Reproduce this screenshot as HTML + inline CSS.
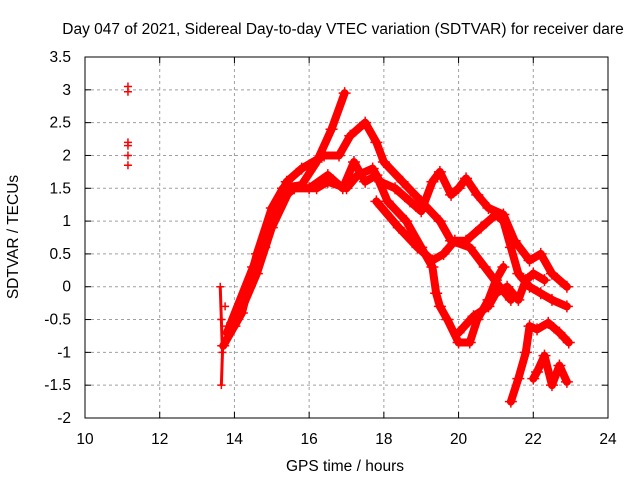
<!DOCTYPE html>
<html><head><meta charset="utf-8"><style>
body{margin:0;background:#fff;font-family:"Liberation Sans",sans-serif}
svg text{font-family:"Liberation Sans",sans-serif;font-size:15.5px;fill:#000}
</style></head><body>
<svg id="chart" width="640" height="480" xmlns="http://www.w3.org/2000/svg">
<rect width="640" height="480" fill="#fff"/>
<text x="343" y="34" text-anchor="middle">Day 047 of 2021, Sidereal Day-to-day VTEC variation (SDTVAR) for receiver dare</text>
<g id="grid"></g><g id="data"></g><g id="axes"></g>
<text x="345" y="471" text-anchor="middle">GPS time / hours</text>
<text transform="translate(18,237) rotate(-90)" text-anchor="middle">SDTVAR / TECUs</text>
</svg>
<script>
const xTicks=[10,12,14,16,18,20,22,24];
const yTicks=[-2,-1.5,-1,-0.5,0,0.5,1,1.5,2,2.5,3,3.5];
const trackT1=[[13.7,-0.9],[14.2,-0.4],[14.6,0.5],[15.0,1.2],[15.3,1.5],[15.8,1.55],[16.2,1.9],[16.6,2.4],[16.95,2.95]];
const trackT2=[[13.8,-0.7],[14.5,0.3],[15.0,1.1],[15.4,1.6],[15.8,1.8],[16.4,2.0],[16.8,2.0],[17.1,2.3],[17.5,2.5],[17.8,2.2],[18.0,1.9],[18.5,1.6],[19.0,1.3],[19.5,1.0],[19.8,0.7],[20.3,0.6],[20.7,0.3],[21.1,0.0],[21.4,-0.2]];
const trackT3=[[14.0,-0.6],[14.6,0.2],[15.0,0.9],[15.5,1.5],[16.0,1.5],[16.5,1.7],[16.9,1.5],[17.2,1.9],[17.5,1.6],[17.8,1.7],[18.1,1.3],[18.6,1.0],[19.0,0.6],[19.3,0.3],[19.4,-0.1],[19.5,-0.3],[19.7,-0.5],[20.0,-0.85],[20.3,-0.85],[20.5,-0.5],[20.8,-0.2],[21.0,0.1],[21.2,0.3]];
const trackT4=[[14.1,-0.4],[14.8,0.6],[15.2,1.3],[15.6,1.5],[16.2,1.5],[16.5,1.6],[17.0,1.5],[17.3,1.7],[17.7,1.8],[17.9,1.6],[18.3,1.5],[18.7,1.3],[19.0,1.15],[19.3,1.6],[19.5,1.75],[19.8,1.4],[20.0,1.5],[20.2,1.65],[20.5,1.4],[20.8,1.2],[21.2,1.1],[21.5,0.7],[21.9,0.4],[22.2,0.5],[22.5,0.2],[22.9,0.0]];
const trackT5=[[17.8,1.3],[18.4,0.9],[18.9,0.6],[19.3,0.4],[19.6,0.5],[19.9,0.7],[20.2,0.7],[20.6,0.9],[21.0,1.1],[21.2,1.0],[21.4,0.6],[21.6,0.2],[21.9,0.0],[22.2,-0.1],[22.5,-0.2],[22.9,-0.3]];
const trackT6=[[20.0,-0.7],[20.4,-0.45],[20.8,-0.3],[21.0,-0.1],[21.3,0.0],[21.6,-0.2],[21.8,0.1],[22.0,0.2],[22.3,0.1]];
const trackT7=[[21.4,-1.75],[21.6,-1.4],[21.8,-1.0],[21.9,-0.6],[22.1,-0.65],[22.4,-0.55],[22.7,-0.7],[22.95,-0.85]];
const trackT8=[[22.0,-1.4],[22.1,-1.3],[22.3,-1.05],[22.5,-1.5],[22.7,-1.2],[22.9,-1.45]];
const trackT9=[[13.62,0.0],[13.65,-0.5],[13.68,-1.0],[13.65,-1.5],[13.75,-0.3],[13.8,-0.6]];
const isolated=[[11.15,3.05],[11.15,2.97],[11.15,2.2],[11.15,2.15],[11.15,2.0],[11.15,1.85]];
const tracks=[trackT1,trackT2,trackT3,trackT4,trackT5,trackT6,trackT7,trackT8];
const X0=85,X1=608,Y0=418,Y1=57;
const xs=v=>X0+(v-10)/(24-10)*(X1-X0);
const ys=v=>Y0-(v+2)/(5.5)*(Y0-Y1);
const NS="http://www.w3.org/2000/svg";
function mk(t,a,p){const e=document.createElementNS(NS,t);for(const k in a)e.setAttribute(k,a[k]);p.appendChild(e);return e;}
const grid=document.getElementById('grid'),axes=document.getElementById('axes'),data=document.getElementById('data');
xTicks.forEach(t=>{const x=xs(t);
 if(t>10&&t<24){const l=mk('line',{x1:x,y1:Y1,x2:x,y2:Y0,stroke:'#a0a0a0','stroke-dasharray':'3,3'},grid);
 
 }
 mk('line',{x1:x,y1:Y0,x2:x,y2:Y0-6,stroke:'#000'},axes);mk('line',{x1:x,y1:Y1,x2:x,y2:Y1+6,stroke:'#000'},axes);
 const tx=mk('text',{x:x,y:Y0+26,'text-anchor':'middle'},axes);tx.textContent=t;
 
 });
yTicks.forEach(t=>{const y=ys(t);
 if(t>-2&&t<3.5){const l=mk('line',{x1:X0,y1:y,x2:X1,y2:y,stroke:'#a0a0a0','stroke-dasharray':'3,3'},grid);
 
 }
 mk('line',{x1:X0,y1:y,x2:X0+6,y2:y,stroke:'#000'},axes);mk('line',{x1:X1,y1:y,x2:X1-6,y2:y,stroke:'#000'},axes);
 const tx=mk('text',{x:X0-14,y:y+5,'text-anchor':'end'},axes);tx.textContent=t;
 
 });
const frame=mk('rect',{x:X0,y:Y1,width:X1-X0,height:Y0-Y1,fill:'none',stroke:'#000'},axes);


function cross(p,x,y,s){mk('path',{d:`M${x-s} ${y}h${2*s}M${x} ${y-s}v${2*s}`,stroke:'#f00','stroke-width':1.5},p);}
tracks.forEach(tr=>{
 const g=mk('g',{},data);
 
 
 mk('polyline',{points:tr.map(p=>xs(p[0])+','+ys(p[1])).join(' '),fill:'none',stroke:'#f00','stroke-width':8,'stroke-linejoin':'round','stroke-linecap':'round'},g);
 tr.forEach(p=>cross(g,xs(p[0]),ys(p[1]),6));
});
const g2=mk('g',{},data);


trackT9.concat(isolated).forEach(p=>cross(g2,xs(p[0]),ys(p[1]),4));
mk('polyline',{points:trackT9.slice(0,4).map(p=>xs(p[0])+','+ys(p[1])).join(' '),fill:'none',stroke:'#f00','stroke-width':3},g2);
</script>
</body></html>
